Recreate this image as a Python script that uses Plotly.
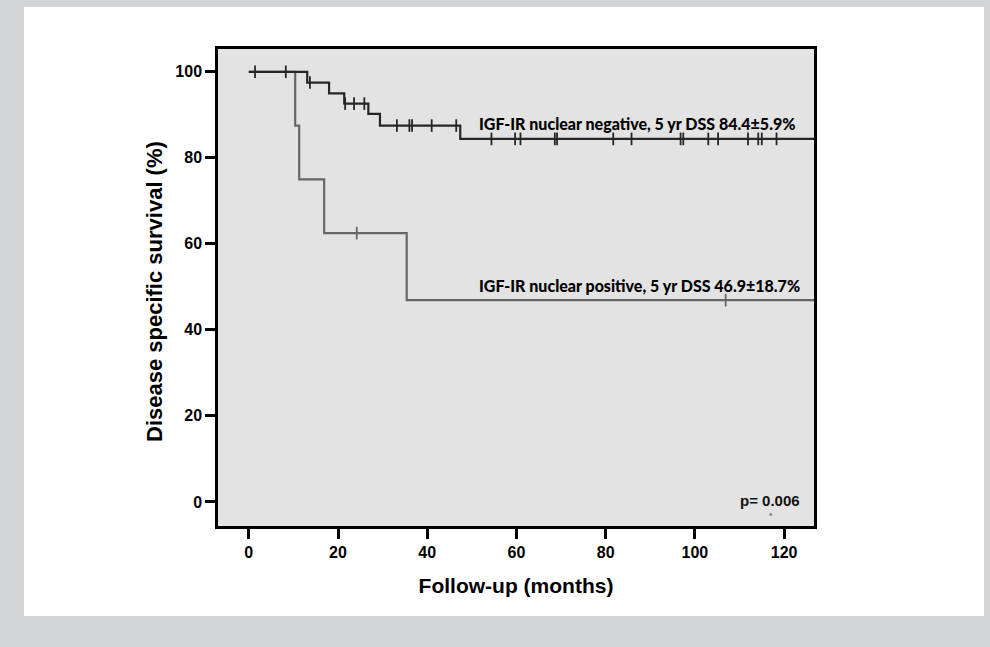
import plotly.graph_objects as go

# ---- data ----
neg_times = [0, 13.1, 18.0, 21.4, 26.8, 29.4, 47.4, 130]
neg_surv = [100, 97.5, 95.0, 92.6, 90.2, 87.5, 84.4, 84.4]
neg_censor = [1.4, 8.3, 13.7, 21.6, 23.6, 25.9, 33.2, 36.0, 36.6, 41.0, 46.5,
              54.4, 59.7, 60.9, 68.6, 69.1, 81.7, 85.8, 96.8, 97.4, 103.0,
              105.2, 111.9, 114.2, 115.0, 118.3]

pos_times = [0, 10.4, 11.3, 16.9, 35.4, 130]
pos_surv = [100, 87.5, 75.0, 62.5, 46.9, 46.9]
pos_censor = [24.2, 106.9]

neg_label = "IGF-IR nuclear negative, 5 yr DSS 84.4±5.9%"
pos_label = "IGF-IR nuclear positive, 5 yr DSS 46.9±18.7%"
p_label = "p= 0.006"
x_title = "Follow-up (months)"
y_title = "Disease specific survival (%)"

x_ticks = [0, 20, 40, 60, 80, 100, 120]
y_ticks = [0, 20, 40, 60, 80, 100]


def step_value(times, surv, t):
    v = surv[0]
    for ti, si in zip(times, surv):
        if ti <= t:
            v = si
    return v


NEG_COLOR = "#262626"
POS_COLOR = "#676767"

fig = go.Figure()

fig.add_trace(go.Scatter(x=pos_times, y=pos_surv, mode="lines", line_shape="hv",
                         line=dict(color=POS_COLOR, width=2.2), showlegend=False,
                         hoverinfo="skip"))
fig.add_trace(go.Scatter(x=pos_censor, y=[step_value(pos_times, pos_surv, t) for t in pos_censor],
                         mode="markers",
                         marker=dict(symbol="line-ns", size=9, line=dict(color=POS_COLOR, width=1.8)),
                         showlegend=False, hoverinfo="skip"))
fig.add_trace(go.Scatter(x=neg_times, y=neg_surv, mode="lines", line_shape="hv",
                         line=dict(color=NEG_COLOR, width=2.2), showlegend=False,
                         hoverinfo="skip"))
fig.add_trace(go.Scatter(x=neg_censor, y=[step_value(neg_times, neg_surv, t) for t in neg_censor],
                         mode="markers",
                         marker=dict(symbol="line-ns", size=9, line=dict(color=NEG_COLOR, width=1.8)),
                         showlegend=False, hoverinfo="skip"))
# tiny grey speck under the p-value
fig.add_trace(go.Scatter(x=[117.0], y=[-2.9], mode="markers",
                         marker=dict(size=3, color="#8a8a8a"), showlegend=False,
                         hoverinfo="skip"))

L, R, T, B = 218, 176, 49, 121
W, H = 990, 647
pw, ph = W - L - R, H - T - B


def px_x(x):
    return (x - L) / pw


def px_y(y):
    return (H - B - y) / ph


shapes = [
    dict(type="rect", xref="paper", yref="paper", layer="below",
         x0=px_x(24), x1=px_x(984), y0=px_y(616), y1=px_y(7),
         fillcolor="white", line=dict(width=0)),
    dict(type="rect", xref="paper", yref="paper", layer="below",
         x0=0, x1=1, y0=0, y1=1, fillcolor="#e3e3e3", line=dict(width=0)),
]

label_font = dict(family="Lato, Open Sans, sans-serif", size=16, color="#000000", weight=900)
tick_font = dict(family="Liberation Sans, Arial, sans-serif", size=16, color="#000000", weight="bold")
title_font = dict(family="Liberation Sans, Arial, sans-serif", size=21, color="#000000", weight="bold")

annotations = [
    dict(x=px_x(477), y=px_y(123), xref="paper", yref="paper", text=neg_label,
         showarrow=False, xanchor="left", yanchor="middle", font=label_font),
    dict(x=px_x(477), y=px_y(285), xref="paper", yref="paper", text=pos_label,
         showarrow=False, xanchor="left", yanchor="middle", font=label_font),
    dict(x=px_x(802), y=px_y(500), xref="paper", yref="paper", text=p_label,
         showarrow=False, xanchor="right", yanchor="middle",
         font=dict(family="Liberation Sans, Arial, sans-serif", size=15, color="#111111", weight="bold")),
    dict(x=px_x(154), y=px_y(292), xref="paper", yref="paper", text=y_title,
         showarrow=False, xanchor="center", yanchor="middle", textangle=-90,
         font=dict(family="Liberation Sans, Arial, sans-serif", size=22, color="#000000", weight="bold")),
]

fig.update_layout(
    width=W, height=H,
    margin=dict(l=L, r=R, t=T, b=B, pad=0),
    paper_bgcolor="#d3d4d6",
    plot_bgcolor="#e3e3e3",
    shapes=shapes,
    annotations=annotations,
    xaxis=dict(range=[-6.9, 126.7], tickvals=x_ticks, ticktext=[str(v) for v in x_ticks],
               showgrid=False, zeroline=False, showline=True, linecolor="black", linewidth=2.5,
               mirror=True, ticks="outside", ticklen=10, tickwidth=2.5, tickcolor="black",
               tickfont=tick_font,
               title=dict(text=x_title, font=title_font, standoff=19)),
    yaxis=dict(range=[-5.6, 105.3], tickvals=y_ticks, ticktext=[str(v) for v in y_ticks],
               showgrid=False, zeroline=False, showline=True, linecolor="black", linewidth=2.5,
               mirror=True, ticks="outside", ticklen=10, tickwidth=2.5, tickcolor="black",
               tickfont=tick_font),
)

fig.write_html("out.html", config={"displayModeBar": False})
